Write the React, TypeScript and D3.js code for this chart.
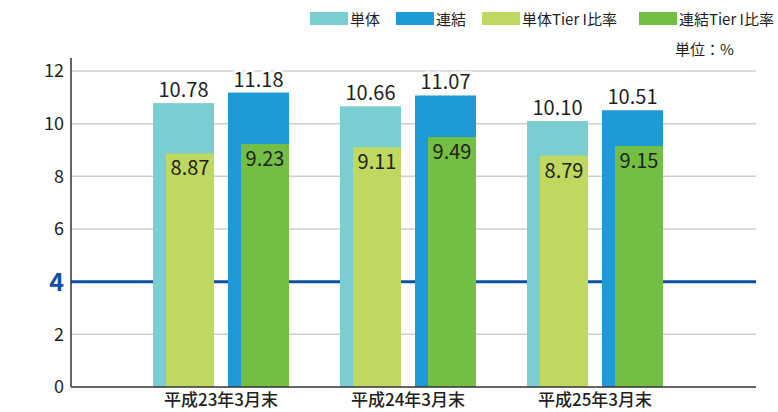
import React, { useEffect, useRef } from 'react';
import * as d3 from 'd3';

const categories = ['平成23年3月末', '平成24年3月末', '平成25年3月末'];
const tanTai = [10.78, 10.66, 10.1];
const renketsu = [11.18, 11.07, 10.51];
const tanTaiTier = [8.87, 9.11, 8.79];
const renketsuTier = [9.23, 9.49, 9.15];
const yTicks = [0, 2, 4, 6, 8, 10, 12];
const legendNames = ['単体', '連結', '単体Tier I比率', '連結Tier I比率'];
const colors = ['#7acdd0', '#1e9ad6', '#bfd860', '#72bf44'];

const W = 778;
const H = 412;
const FONT = "'Noto Sans CJK JP', 'Open Sans', sans-serif";

const App = () => {
  const svgRef = useRef<SVGSVGElement>(null);

  useEffect(() => {
    const svg = d3.select(svgRef.current);
    svg.selectAll('*').remove();

    const left = 71, right = 756, top = 71, bottom = 387;

    const y = d3.scaleLinear().domain([0, 12]).range([bottom, top]);
    const x = d3.scaleBand().domain(categories).range([127.5, 688.5]);

    const g = svg.append('g');

    // gridlines
    g.selectAll('.grid')
      .data(yTicks.filter(t => t !== 0 && t !== 4))
      .enter().append('line')
      .attr('x1', left).attr('x2', right)
      .attr('y1', d => y(d)).attr('y2', d => y(d))
      .style('stroke', '#cfcfcf')
      .style('stroke-width', 1.5);

    // 4% line
    g.append('line')
      .attr('x1', left).attr('x2', right)
      .attr('y1', y(4)).attr('y2', y(4))
      .style('stroke', '#0f4fa3')
      .style('stroke-width', 3);

    // tick labels
    g.selectAll('.tick')
      .data(yTicks)
      .enter().append('text')
      .attr('x', 64)
      .attr('y', d => y(d))
      .attr('dy', '0.36em')
      .attr('text-anchor', 'end')
      .style('font-family', FONT)
      .style('font-size', d => (d === 4 ? '25px' : '18px'))
      .style('font-weight', d => (d === 4 ? 'bold' : 'normal'))
      .style('fill', d => (d === 4 ? '#0f4fa3' : '#231f20'))
      .text(d => d);

    const series = [
      { vals: tanTai, c: colors[0], x0: -68, x1: -7, inside: false },
      { vals: renketsu, c: colors[1], x0: 7, x1: 68, inside: false },
      { vals: tanTaiTier, c: colors[2], x0: -55, x1: -7, inside: true },
      { vals: renketsuTier, c: colors[3], x0: 20, x1: 68, inside: true },
    ];

    series.forEach(s => {
      const data = categories.map((c, i) => ({ c, v: s.vals[i] }));
      const cx = (d: { c: string }) => (x(d.c) as number) + x.bandwidth() / 2;
      g.selectAll(null)
        .data(data)
        .enter().append('rect')
        .attr('x', d => cx(d) + s.x0)
        .attr('width', s.x1 - s.x0)
        .attr('y', d => y(d.v))
        .attr('height', d => bottom - y(d.v))
        .style('fill', s.c);

      g.selectAll(null)
        .data(data)
        .enter().append('text')
        .attr('x', d => cx(d) + (s.x0 + s.x1) / 2)
        .attr('y', d => (s.inside ? y(d.v) + 22 : y(d.v) - 6))
        .attr('text-anchor', 'middle')
        .style('font-family', FONT)
        .style('font-size', '20px')
        .style('fill', '#231f20')
        .style('stroke', s.inside ? 'none' : '#fff')
        .style('stroke-width', 5)
        .style('paint-order', 'stroke')
        .text(d => d.v.toFixed(2));
    });

    // axes lines
    g.append('line')
      .attr('x1', left).attr('x2', left)
      .attr('y1', 58).attr('y2', bottom)
      .style('stroke', '#333').style('stroke-width', 1.5);
    g.append('line')
      .attr('x1', left).attr('x2', right)
      .attr('y1', bottom).attr('y2', bottom)
      .style('stroke', '#333').style('stroke-width', 1.5);

    // category labels
    g.selectAll('.cat')
      .data(categories)
      .enter().append('text')
      .attr('x', d => (x(d) as number) + x.bandwidth() / 2)
      .attr('y', 406)
      .attr('text-anchor', 'middle')
      .style('font-family', FONT)
      .style('font-size', '17px')
      .style('font-weight', 500)
      .style('fill', '#231f20')
      .text(d => d);

    // legend
    const legX = [310, 396, 482, 639];
    legendNames.forEach((name, i) => {
      g.append('rect')
        .attr('x', legX[i]).attr('y', 12)
        .attr('width', 38).attr('height', 13)
        .style('fill', colors[i]);
      g.append('text')
        .attr('x', legX[i] + 40).attr('y', 24.5)
        .style('font-family', FONT)
        .style('font-size', '15px')
        .style('fill', '#231f20')
        .text(name);
    });

    g.append('text')
      .attr('x', 675).attr('y', 55)
      .style('font-family', FONT)
      .style('font-size', '15px')
      .style('fill', '#231f20')
      .text('単位：%');
  }, []);

  return (
    <svg ref={svgRef} width={W} height={H} style={{ position: 'absolute', left: 0, top: 0 }}></svg>
  );
};

export default App;
